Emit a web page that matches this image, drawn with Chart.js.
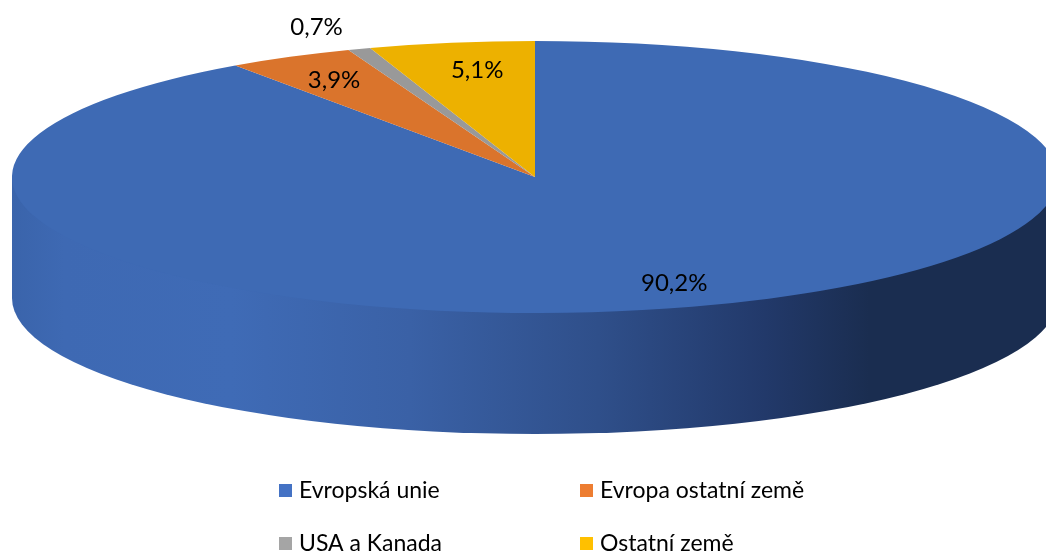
<!DOCTYPE html>
<html>
<head>
<meta charset="utf-8">
<style>html,body{margin:0;padding:0;background:#fff;overflow:hidden}canvas{display:block}</style>
<script src="https://cdn.jsdelivr.net/npm/chart.js@4/dist/chart.umd.js"></script>
</head>
<body>
<canvas id="c" width="1046" height="554"></canvas>
<script>
const categories = ["Evropská unie", "Evropa ostatní země", "USA a Kanada", "Ostatní země"];
const shares = [90.2, 3.9, 0.7, 5.1];
const valueLabels = ["90,2%", "3,9%", "0,7%", "5,1%"];
const sliceColors = ["#3E6AB4", "#DA742C", "#999999", "#EDB100"];
const legendColors = ["#4472C4", "#ED7D31", "#A5A5A5", "#FFC000"];

const FONT = 'Lato, "Open Sans", sans-serif';
const view = {cx: 535, cy: 177, rx: 523, ry: 136, depth: 121};
const labelPlacement = [
  {r: 0.81, dx: 12, dy: 1},
  {r: 0.80, dx: -5, dy: -1},
  {r: 1.18, dx: -11, dy: 1},
  {r: 0.80, dx: 9, dy: 1}
];
const legendSlots = [
  {x: 279, y: 484}, {x: 580, y: 484}, {x: 279, y: 537}, {x: 580, y: 537}
];

const pie3d = {
  id: "pie3d",
  beforeDatasetsDraw(chart) {
    const ctx = chart.ctx, v = view;
    const g = ctx.createLinearGradient(v.cx - v.rx, 0, v.cx + v.rx, 0);
    g.addColorStop(0, "#3A64AB");
    g.addColorStop(0.05, "#3E69B3");
    g.addColorStop(0.21, "#3F6BB6");
    g.addColorStop(0.38, "#3A61A6");
    g.addColorStop(0.56, "#2F4F8A");
    g.addColorStop(0.72, "#22396A");
    g.addColorStop(0.82, "#1A2D50");
    g.addColorStop(1, "#1A2D50");
    ctx.save();
    ctx.fillStyle = g;
    ctx.beginPath();
    ctx.moveTo(v.cx - v.rx, v.cy);
    ctx.lineTo(v.cx - v.rx, v.cy + v.depth);
    ctx.ellipse(v.cx, v.cy + v.depth, v.rx, v.ry, 0, Math.PI, 0, true);
    ctx.lineTo(v.cx + v.rx, v.cy);
    ctx.closePath();
    ctx.fill();
    ctx.restore();
    const arc = chart.getDatasetMeta(0).data[0];
    ctx.save();
    ctx.translate(v.cx, v.cy);
    ctx.scale(v.rx / arc.outerRadius, v.ry / arc.outerRadius);
    ctx.translate(-arc.x, -arc.y);
  },
  afterDatasetsDraw(chart) {
    const ctx = chart.ctx, v = view;
    ctx.restore();
    ctx.save();
    ctx.fillStyle = "#000";
    ctx.font = "24px " + FONT;
    ctx.textAlign = "center";
    ctx.textBaseline = "middle";
    chart.getDatasetMeta(0).data.forEach((arc, i) => {
      const mid = (arc.startAngle + arc.endAngle) / 2, p = labelPlacement[i];
      const x = v.cx + v.rx * p.r * Math.cos(mid) + p.dx;
      const y = v.cy + v.ry * p.r * Math.sin(mid) + p.dy;
      ctx.fillText(valueLabels[i], x, y);
    });
    ctx.font = "23px " + FONT;
    ctx.textAlign = "left";
    categories.forEach((name, i) => {
      const s = legendSlots[i];
      ctx.fillStyle = legendColors[i];
      ctx.fillRect(s.x, s.y, 13, 13);
      ctx.fillStyle = "#000";
      ctx.fillText(name, s.x + 20, s.y + 7);
    });
    ctx.restore();
  }
};

new Chart(document.getElementById("c"), {
  type: "pie",
  data: {
    labels: categories,
    datasets: [{data: shares, backgroundColor: sliceColors, borderWidth: 0}]
  },
  options: {
    responsive: false,
    animation: false,
    layout: {padding: 0},
    plugins: {legend: {display: false}, tooltip: {enabled: false}, title: {display: false}}
  },
  plugins: [pie3d]
});
</script>
</body>
</html>
